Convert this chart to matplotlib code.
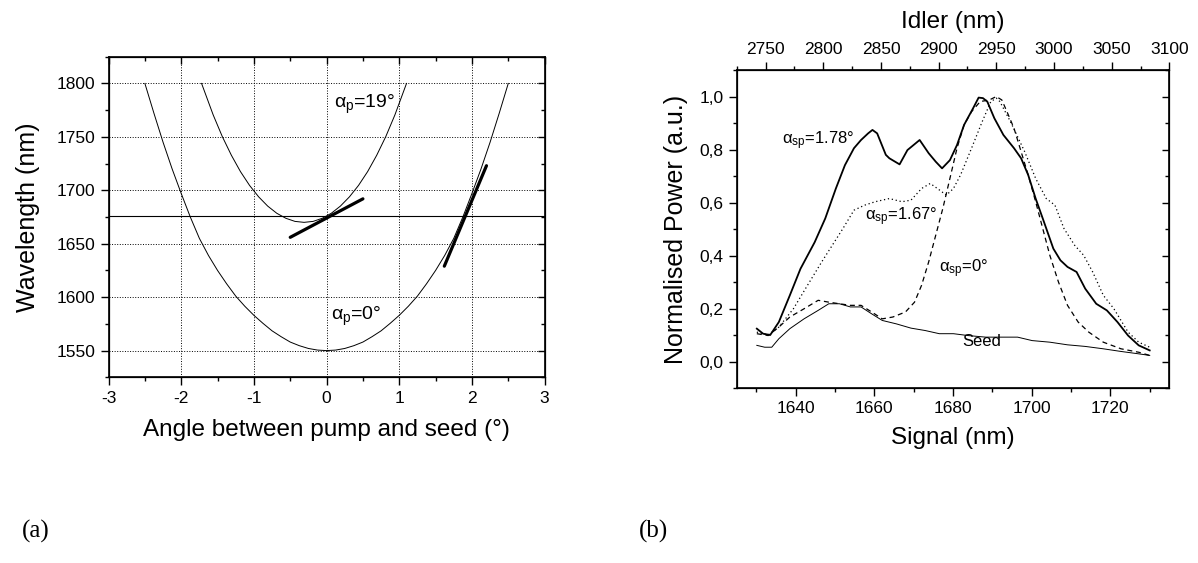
import matplotlib
matplotlib.use("Agg")
import matplotlib.pyplot as plt
from matplotlib.ticker import MultipleLocator, FuncFormatter

plt.rcParams['font.family'] = ['Liberation Sans', 'DejaVu Sans']
plt.rcParams['mathtext.fontset'] = 'custom'
plt.rcParams['mathtext.rm'] = 'Liberation Sans'
plt.rcParams['mathtext.it'] = 'Liberation Sans'
plt.rcParams['axes.unicode_minus'] = False

# (a) phase matching curves
angle_p0 = [-2.5, -2.375, -2.25, -2.125, -2.0, -1.875, -1.75, -1.625, -1.5, -1.375, -1.25,
            -1.125, -1.0, -0.875, -0.75, -0.625, -0.5, -0.375, -0.25, -0.125, 0.0,
            0.125, 0.25, 0.375, 0.5, 0.625, 0.75, 0.875, 1.0, 1.125, 1.25,
            1.375, 1.5, 1.625, 1.75, 1.875, 2.0, 2.125, 2.25, 2.375, 2.5]
wl_p0 = [1800, 1772, 1745, 1720, 1697, 1675, 1655, 1639, 1625, 1612.5, 1601,
         1591.5, 1583, 1575.5, 1568.5, 1563, 1558, 1554.6, 1552, 1550.5, 1550,
         1550.5, 1552, 1554.6, 1558, 1563, 1568.5, 1575.5, 1583, 1591.5, 1601,
         1612.5, 1625, 1639, 1655, 1675, 1697, 1720, 1745, 1772, 1800]
angle_p19 = [-1.72, -1.56, -1.435, -1.31, -1.185, -1.06, -0.935, -0.81, -0.685, -0.56, -0.435,
             -0.31, -0.185, -0.06, 0.065, 0.19, 0.315, 0.44, 0.565, 0.69, 0.815, 0.94, 1.10]
wl_p19 = [1800, 1770.5, 1750.3, 1732.8, 1717.5, 1704.6, 1693.9, 1685.2, 1678.5, 1673.8, 1670.9,
          1670, 1670.9, 1673.8, 1678.5, 1685.2, 1693.9, 1704.6, 1717.5, 1732.8, 1750.3, 1770.5, 1800]
seed_wl = 1676
tangent1_x = [-0.5, 0.5]
tangent1_y = [1656, 1692]
tangent2_x = [1.62, 2.2]
tangent2_y = [1629, 1723]

# (b) spectra
sig_178 = [1630.1, 1631.7, 1633.5, 1635.7, 1638.5, 1641.2, 1644.8, 1647.5, 1650.2, 1652.5,
           1654.8, 1656.6, 1658.4, 1659.5, 1660.7, 1662.9, 1663.8, 1666.4, 1668.4, 1671.5,
           1673.8, 1675.6, 1677.2, 1679.2, 1681.0, 1682.8, 1685.1, 1686.5, 1687.6, 1688.7,
           1690.5, 1692.8, 1695.5, 1697.3, 1699.1, 1701.0, 1702.8, 1705.5, 1707.3, 1709.1,
           1711.4, 1713.6, 1716.4, 1719.1, 1721.8, 1724.5, 1727.2, 1730.0]
pow_178 = [0.124, 0.105, 0.100, 0.149, 0.25, 0.35, 0.45, 0.54, 0.653, 0.741,
           0.805, 0.836, 0.861, 0.874, 0.861, 0.78, 0.767, 0.744, 0.798, 0.836,
           0.786, 0.754, 0.729, 0.76, 0.817, 0.893, 0.956, 0.996, 0.994, 0.981,
           0.918, 0.855, 0.805, 0.767, 0.704, 0.615, 0.54, 0.426, 0.382, 0.357,
           0.338, 0.275, 0.218, 0.193, 0.149, 0.098, 0.061, 0.042]
sig_167 = [1630.1, 1633.0, 1635.7, 1639.4, 1643.0, 1646.6, 1649.3, 1652.0, 1654.8, 1657.5,
           1660.2, 1663.8, 1667.0, 1669.3, 1672.0, 1674.2, 1676.0, 1678.3, 1680.1, 1681.9,
           1684.7, 1687.4, 1689.6, 1691.0, 1691.9, 1694.6, 1698.2, 1701.0, 1703.7, 1705.9,
           1708.2, 1710.9, 1713.2, 1715.5, 1718.2, 1720.9, 1724.5, 1727.2, 1730.0]
pow_167 = [0.111, 0.100, 0.13, 0.199, 0.288, 0.376, 0.439, 0.502, 0.571, 0.59,
           0.603, 0.615, 0.603, 0.609, 0.653, 0.672, 0.653, 0.628, 0.653, 0.704,
           0.805, 0.905, 0.981, 0.994, 0.981, 0.905, 0.792, 0.691, 0.615, 0.59,
           0.502, 0.439, 0.401, 0.338, 0.25, 0.199, 0.111, 0.073, 0.054]
sig_0 = [1630.1, 1633.0, 1635.7, 1638.5, 1642.1, 1645.7, 1648.4, 1651.1, 1653.9, 1656.6,
         1659.3, 1662.0, 1664.7, 1667.9, 1670.2, 1672.0, 1673.8, 1675.6, 1677.4, 1679.2,
         1681.0, 1682.8, 1684.7, 1686.9, 1689.2, 1691.0, 1692.4, 1693.7, 1695.5, 1697.3,
         1699.1, 1701.0, 1702.8, 1704.6, 1706.8, 1709.1, 1711.8, 1714.5, 1718.2, 1722.7,
         1727.2, 1730.0]
pow_0 = [0.105, 0.098, 0.13, 0.168, 0.199, 0.231, 0.224, 0.218, 0.212, 0.212,
         0.187, 0.161, 0.168, 0.187, 0.224, 0.288, 0.376, 0.477, 0.578, 0.691,
         0.805, 0.893, 0.943, 0.981, 0.987, 1.0, 0.987, 0.943, 0.88, 0.792,
         0.704, 0.603, 0.502, 0.401, 0.3, 0.212, 0.149, 0.111, 0.073, 0.048,
         0.035, 0.023]
sig_seed = [1630.1, 1632.1, 1633.9, 1635.7, 1638.5, 1642.1, 1645.7, 1648.4, 1651.1, 1653.9,
            1656.6, 1659.3, 1662.0, 1665.6, 1669.3, 1672.9, 1676.5, 1680.1, 1683.8, 1688.3,
            1692.8, 1696.4, 1700.1, 1704.6, 1709.1, 1713.6, 1718.2, 1722.7, 1727.2, 1730.0]
pow_seed = [0.061, 0.054, 0.054, 0.086, 0.124, 0.161, 0.193, 0.218, 0.218, 0.206,
            0.206, 0.18, 0.155, 0.142, 0.126, 0.117, 0.105, 0.105, 0.098, 0.092,
            0.092, 0.092, 0.079, 0.073, 0.063, 0.057, 0.048, 0.038, 0.029, 0.023]


def inner_ticks(ax, xlim, ylim, xmaj, xmin, ymaj, ymin, top=True):
    """Ticks pointing inwards on the top / right spines, no labels."""
    if top:
        t = ax.twiny()
        t.set_xlim(xlim)
        t.xaxis.set_major_locator(MultipleLocator(xmaj))
        t.xaxis.set_minor_locator(MultipleLocator(xmin))
        t.tick_params(which="both", direction="in", labeltop=False, width=1.0)
        t.tick_params(which="major", length=5)
        t.tick_params(which="minor", length=3)
    r = ax.twinx()
    r.set_ylim(ylim)
    r.yaxis.set_major_locator(MultipleLocator(ymaj))
    r.yaxis.set_minor_locator(MultipleLocator(ymin))
    r.tick_params(which="both", direction="in", labelright=False, width=1.0)
    r.tick_params(which="major", length=5)
    r.tick_params(which="minor", length=3)


fig = plt.figure(figsize=(11.98, 5.63), dpi=100)

# ---- panel (a)
ax1 = fig.add_axes([0.0906, 0.3298, 0.364, 0.5695])
ax1.plot(angle_p0, wl_p0, color="black", lw=0.7)
ax1.plot(angle_p19, wl_p19, color="black", lw=0.7)
ax1.axhline(seed_wl, color="black", lw=0.8)
ax1.plot(tangent1_x, tangent1_y, color="black", lw=2.3, solid_capstyle="round")
ax1.plot(tangent2_x, tangent2_y, color="black", lw=2.3, solid_capstyle="round")
ax1.text(0.1, 1780, r"$\mathrm{\alpha_p}$=19°", fontsize=14, va="center")
ax1.text(0.06, 1582, r"$\mathrm{\alpha_p}$=0°", fontsize=14, va="center")

ax1.set_xlim(-3, 3)
ax1.set_ylim(1525, 1825)
ax1.xaxis.set_major_locator(MultipleLocator(1))
ax1.xaxis.set_minor_locator(MultipleLocator(0.5))
ax1.yaxis.set_minor_locator(MultipleLocator(25))
ax1.set_yticks([1550, 1600, 1650, 1700, 1750, 1800])
ax1.grid(True, which="major", linestyle=":", color="black", lw=0.7)
ax1.tick_params(which="both", direction="out", labelsize=12.5, width=1.0)
ax1.tick_params(which="major", length=6)
ax1.tick_params(which="minor", length=3)
ax1.set_xlabel("Angle between pump and seed (°)", fontsize=17.5, labelpad=10)
ax1.set_ylabel("Wavelength (nm)", fontsize=18, labelpad=12)
for s in ax1.spines.values():
    s.set_linewidth(1.2)
inner_ticks(ax1, (-3, 3), (1525, 1825), 1, 0.5, 50, 25)

# ---- panel (b)
ax2 = fig.add_axes([0.615, 0.3108, 0.3611, 0.5648])
ax2.plot(sig_178, pow_178, color="black", lw=1.3)
ax2.plot(sig_167, pow_167, color="black", lw=0.9, linestyle=(0, (1, 2.2)))
ax2.plot(sig_0, pow_0, color="black", lw=0.9, linestyle=(0, (4, 3)))
ax2.plot(sig_seed, pow_seed, color="black", lw=0.7)
ax2.text(1636.6, 0.835, r"$\mathrm{\alpha_{sp}}$=1.78°", fontsize=12, va="center")
ax2.text(1657.7, 0.545, r"$\mathrm{\alpha_{sp}}$=1.67°", fontsize=12, va="center")
ax2.text(1676.3, 0.35, r"$\mathrm{\alpha_{sp}}$=0°", fontsize=12, va="center")
ax2.text(1682.4, 0.075, "Seed", fontsize=12, va="center")

ax2.set_xlim(1625, 1735)
ax2.set_ylim(-0.1, 1.1)
ax2.xaxis.set_minor_locator(MultipleLocator(10))
ax2.set_xticks([1640, 1660, 1680, 1700, 1720])
ax2.yaxis.set_minor_locator(MultipleLocator(0.1))
ax2.set_yticks([0.0, 0.2, 0.4, 0.6, 0.8, 1.0])
ax2.yaxis.set_major_formatter(FuncFormatter(lambda v, _: f"{v:.1f}".replace(".", ",")))
ax2.tick_params(which="both", direction="out", labelsize=12.5, width=1.0)
ax2.tick_params(which="major", length=6)
ax2.tick_params(which="minor", length=3)
ax2.set_xlabel("Signal (nm)", fontsize=17.5, labelpad=8)
ax2.set_ylabel("Normalised Power (a.u.)", fontsize=18, labelpad=8)
for s in ax2.spines.values():
    s.set_linewidth(1.2)
inner_ticks(ax2, (1625, 1735), (-0.1, 1.1), 20, 10, 0.2, 0.1, top=False)

ax3 = ax2.twiny()
ax3.set_xlim(2725, 3100)
ax3.xaxis.set_major_locator(MultipleLocator(50))
ax3.xaxis.set_minor_locator(MultipleLocator(25))
ax3.tick_params(which="both", direction="out", labelsize=12.5, width=1.0)
ax3.tick_params(which="major", length=6)
ax3.tick_params(which="minor", length=3)
ax3.set_xlabel("Idler (nm)", fontsize=17.5, labelpad=10)

fig.text(0.018, 0.045, "(a)", fontsize=18, family="Liberation Serif")
fig.text(0.533, 0.045, "(b)", fontsize=18, family="Liberation Serif")

fig.savefig("out.png", dpi=100)
